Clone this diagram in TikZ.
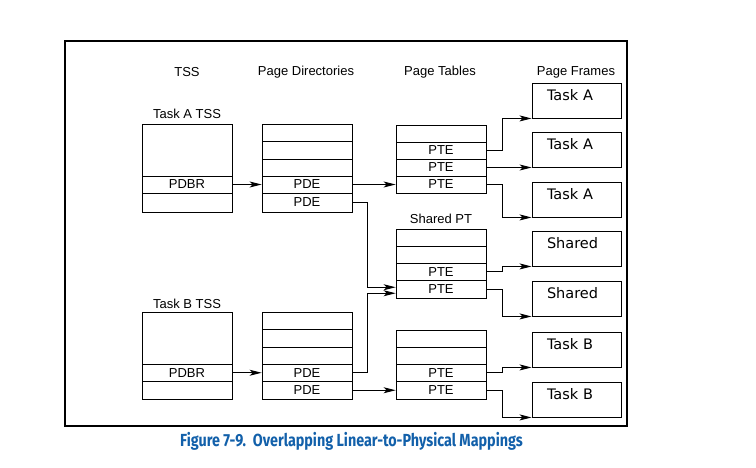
\documentclass[tikz,border=0pt]{standalone}
\usepackage{fontspec}
\setmainfont{Liberation Sans}
\newfontfamily\framefont{DejaVu Sans}
\newfontfamily\capfont{Fira Sans}
\usetikzlibrary{arrows.meta}
\definecolor{capblue}{RGB}{18,96,170}
\tikzset{
  cell/.style={draw, line width=0.9pt, minimum width=90pt, inner sep=0pt, font=\fontsize{13}{15}\selectfont},
  pageframe/.style={draw, line width=0.9pt, text width=59pt, inner xsep=15pt, inner ysep=0pt, align=left,
    text height=17pt, text depth=18pt, font=\framefont\fontsize{14.5}{17}\selectfont},
  heading/.style={font=\fontsize{13}{15}\selectfont},
  link/.style={line width=0.9pt, -{Stealth[length=12pt,width=6pt,inset=3pt]}},
}

\begin{document}
\begin{tikzpicture}[x=1pt, y=-1pt]
            \useasboundingbox (0,0) rectangle (756,467);
            \draw[line width=1.1pt] (65,41) rectangle (627,426);

            \node[heading] (hTss) at (187,72) {TSS};
            \node[heading] (hDir) at (306,72) {Page Directories};
            \node[heading] (hTab) at (440,72) {Page Tables};
            \node[heading] (hFrm) at (576,72) {Page Frames};

            % task A
            \node[heading] (lTssA) at (187,114) {Task A TSS};
            \node[cell, minimum height=52pt] (tssA1) at (187,150) {};
            \node[cell, minimum height=17pt] (tssA2) at (187,184.5) {PDBR};
            \node[cell, minimum height=19pt] (tssA3) at (187,202.5) {};

            \node[cell, minimum height=17.5pt] (pdA1) at (307,132.75) {};
            \node[cell, minimum height=17.5pt] (pdA2) at (307,150.25) {};
            \node[cell, minimum height=17pt] (pdA3) at (307,167.5) {};
            \node[cell, minimum height=17pt] (pdA4) at (307,184.5) {PDE};
            \node[cell, minimum height=19pt] (pdA5) at (307,202.5) {PDE};

            \node[cell, minimum height=17pt] (ptA1) at (441,133.5) {};
            \node[cell, minimum height=17pt] (ptA2) at (441,150.5) {PTE};
            \node[cell, minimum height=17pt] (ptA3) at (441,167.5) {PTE};
            \node[cell, minimum height=17pt] (ptA4) at (441,184.5) {PTE};

            % shared page table
            \node[heading] (lPtS) at (441,219) {Shared PT};
            \node[cell, minimum height=17pt] (ptS1) at (441,237.5) {};
            \node[cell, minimum height=17pt] (ptS2) at (441,254.5) {};
            \node[cell, minimum height=17.5pt] (ptS3) at (441,271.75) {PTE};
            \node[cell, minimum height=17.5pt] (ptS4) at (441,289.25) {PTE};

            % task B
            \node[heading] (lTssB) at (187,304) {Task B TSS};
            \node[cell, minimum height=52pt] (tssB1) at (187,338) {};
            \node[cell, minimum height=17.5pt] (tssB2) at (187,372.75) {PDBR};
            \node[cell, minimum height=17.5pt] (tssB3) at (187,390.25) {};

            \node[cell, minimum height=17.5pt] (pdB1) at (307,320.75) {};
            \node[cell, minimum height=17.5pt] (pdB2) at (307,338.25) {};
            \node[cell, minimum height=17pt] (pdB3) at (307,355.5) {};
            \node[cell, minimum height=17.5pt] (pdB4) at (307,372.75) {PDE};
            \node[cell, minimum height=17.5pt] (pdB5) at (307,390.25) {PDE};

            \node[cell, minimum height=17pt] (ptB1) at (441,338.5) {};
            \node[cell, minimum height=17pt] (ptB2) at (441,355.5) {};
            \node[cell, minimum height=17.5pt] (ptB3) at (441,372.75) {PTE};
            \node[cell, minimum height=17.5pt] (ptB4) at (441,390.25) {PTE};

            % page frames
            \node[pageframe] (frmA1) at (576.5,100.5) {Task A};
            \node[pageframe] (frmA2) at (576.5,149.5) {Task A};
            \node[pageframe] (frmA3) at (576.5,199.5) {Task A};
            \node[pageframe] (frmS1) at (576.5,248.5) {Shared};
            \node[pageframe] (frmS2) at (576.5,298.5) {Shared};
            \node[pageframe] (frmB1) at (576.5,349.5) {Task B};
            \node[pageframe] (frmB2) at (576.5,399.5) {Task B};

            \draw[link] (tssA2) -- (pdA4);
            \draw[link] (pdA4) -- (ptA4);
            \draw[link] (pdA5.east) -- ++(15,0) |- ([yshift=2pt]ptS4.west);
            \draw[link] (tssB2) -- (pdB4);
            \draw[link] (pdB4.east) -- ++(15,0) |- ([yshift=-4pt]ptS4.west);
            \draw[link] (pdB5) -- (ptB4);

            \draw[link] (ptA2.east) -- ++(16,0) |- (frmA1.south west);
            \draw[link] (ptA3.east) -- (ptA3.east -| frmA2.west);
            \draw[link] (ptA4.east) -- ++(16,0) |- (frmA3.south west);
            \draw[link] (ptS3.east) -- ++(16,0) |- (frmS1.south west);
            \draw[link] (ptS4.east) -- ++(16,0) |- (frmS2.south west);
            \draw[link] (ptB3.east) -- ++(16,0) |- (frmB1.south west);
            \draw[link] (ptB4.east) -- ++(16,0) |- (frmB2.south west);

            \node[font=\capfont\bfseries\fontsize{17.5}{20}\selectfont, text=capblue] (caption) at (351.5,441)
                {\scalebox{0.82}[1]{Figure 7-9.~~Overlapping Linear-to-Physical Mappings}};
        \end{tikzpicture}
\end{document}
